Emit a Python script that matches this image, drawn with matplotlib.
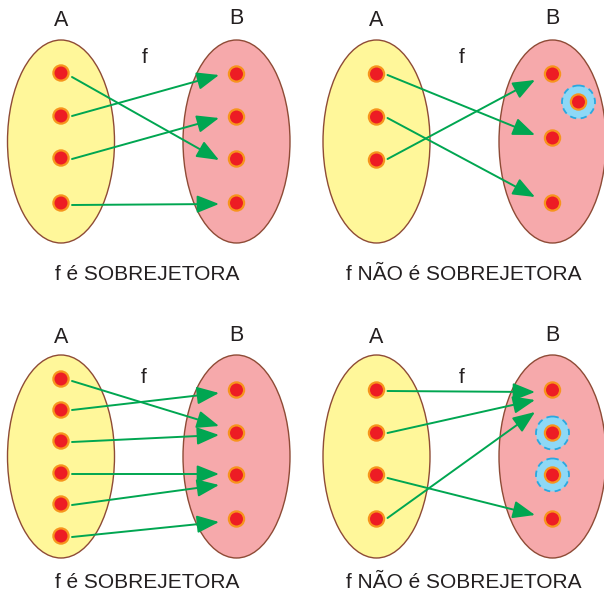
import matplotlib
matplotlib.use("Agg")
import matplotlib.pyplot as plt
from matplotlib.patches import Ellipse, Circle, FancyArrowPatch

plt.rcParams['font.family'] = ['Liberation Sans', 'DejaVu Sans']

# ---------------- data ----------------
set_names = ["A", "B"]
func_name = "f"
captions = ["f é SOBREJETORA", "f NÃO é SOBREJETORA",
            "f é SOBREJETORA", "f NÃO é SOBREJETORA"]

# panel 1
p1_a_y = [73, 116, 158, 203]
p1_b_y = [74, 117, 159, 203]
p1_b_dx = [0, 0, 0, 0]
p1_map = [2, 0, 1, 3]
p1_start_dy = [4, 0, 1, 2]
p1_tip_dy = [1, 1, 1, 1]

# panel 2
p2_a_y = [74, 117, 160]
p2_b_y = [74, 102, 138, 203]
p2_b_dx = [0, 26, 0, 0]
p2_map = [2, 3, 0]
p2_start_dy = [1, 1, -1]
p2_tip_dy = [-3, -6, 6]

# panel 3
p3_a_y = [379, 410, 441, 473, 504, 536]
p3_b_y = [390, 433, 475, 519]
p3_b_dx = [0, 0, 0, 0]
p3_map = [1, 0, 1, 2, 2, 3]
p3_start_dy = [2, 0, 1, 1, 1, 1]
p3_tip_dy = [-7, 3, 2, -1, 10, 3]

# panel 4
p4_a_y = [390, 433, 475, 519]
p4_b_y = [390, 433, 475, 519]
p4_b_dx = [0, 0, 0, 0]
p4_map = [0, 0, 3, 0]
p4_start_dy = [1, 0, 3, -1]
p4_tip_dy = [2, 10, -4, 22]

panels_data = [
    (p1_a_y, p1_b_y, p1_b_dx, p1_map, p1_start_dy, p1_tip_dy),
    (p2_a_y, p2_b_y, p2_b_dx, p2_map, p2_start_dy, p2_tip_dy),
    (p3_a_y, p3_b_y, p3_b_dx, p3_map, p3_start_dy, p3_tip_dy),
    (p4_a_y, p4_b_y, p4_b_dx, p4_map, p4_start_dy, p4_tip_dy),
]

# ---------------- layout ----------------
layouts = [
    dict(ax=61, bx=236.5, cy=141.5, la=26, lb=24, f=(145, 63), cap=(147.5, 280)),
    dict(ax=376.5, bx=552.5, cy=141.5, la=26, lb=24, f=(462, 63), cap=(464, 280)),
    dict(ax=61, bx=236.5, cy=456.5, la=343, lb=341, f=(144, 383), cap=(147.5, 588)),
    dict(ax=376.5, bx=552.5, cy=456.5, la=343, lb=341, f=(462, 383), cap=(464, 588)),
]

ELL_W, ELL_H = 107, 203
COL_A = "#FFF79A"
COL_B = "#F6A9AB"
COL_EDGE = "#8E4B36"
COL_PT = "#ED1C24"
COL_PT_EDGE = "#F7941D"
COL_ARROW = "#00A651"
COL_HL = "#8ED8F6"
COL_HL_EDGE = "#29A8E0"
COL_TXT = "#231F20"
FS = 15

fig = plt.figure(figsize=(6.04, 5.94), dpi=100)
ax = fig.add_axes([0, 0, 1, 1])
ax.set_xlim(0, 604)
ax.set_ylim(594, 0)
ax.axis("off")


def point(x, y):
    ax.add_patch(Circle((x, y), 7.6, facecolor=COL_PT, edgecolor=COL_PT_EDGE,
                        linewidth=1.6, zorder=4))


for (a_y, b_y, b_dx, fmap, sdy, tdy), lay, cap in zip(panels_data, layouts, captions):
    axc, bxc, cy = lay["ax"], lay["bx"], lay["cy"]
    ax.add_patch(Ellipse((axc, cy), ELL_W, ELL_H, facecolor=COL_A,
                         edgecolor=COL_EDGE, linewidth=1.0, zorder=1))
    ax.add_patch(Ellipse((bxc, cy), ELL_W, ELL_H, facecolor=COL_B,
                         edgecolor=COL_EDGE, linewidth=1.0, zorder=1))
    image = set(fmap)
    for j, (y, dx) in enumerate(zip(b_y, b_dx)):
        if j not in image:
            ax.add_patch(Circle((bxc + dx, y), 16.5, facecolor=COL_HL,
                                edgecolor=COL_HL_EDGE, linewidth=1.3,
                                linestyle=(0, (3.5, 2.5)), zorder=3))
        point(bxc + dx, y)
    for y in a_y:
        point(axc, y)
    for i, j in enumerate(fmap):
        start = (axc + 11, a_y[i] + sdy[i])
        end = (bxc + b_dx[j] - 17.5, b_y[j] + tdy[i])
        ax.add_patch(FancyArrowPatch(start, end,
                                     arrowstyle="-|>,head_length=13.5,head_width=5.4",
                                     mutation_scale=1, shrinkA=0, shrinkB=0,
                                     color=COL_ARROW, linewidth=1.4, zorder=5))
    ax.text(axc, lay["la"], set_names[0], fontsize=FS + 0.5, ha="center", va="baseline",
            color=COL_TXT)
    ax.text(bxc, lay["lb"], set_names[1], fontsize=FS + 0.5, ha="center", va="baseline",
            color=COL_TXT)
    ax.text(lay["f"][0], lay["f"][1], func_name, fontsize=FS, ha="center",
            va="baseline", color=COL_TXT)
    ax.text(lay["cap"][0], lay["cap"][1], cap, fontsize=FS, ha="center",
            va="baseline", color=COL_TXT)

fig.savefig("out.png", dpi=100)
